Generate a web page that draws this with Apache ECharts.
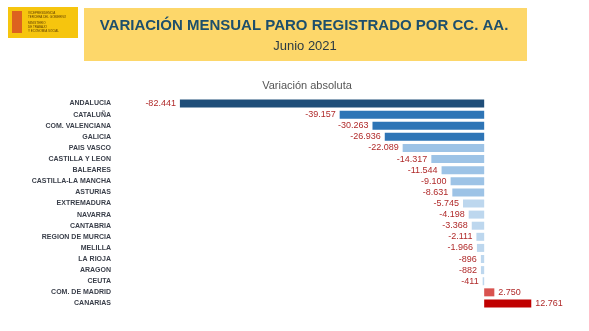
<!DOCTYPE html>
<html><head><meta charset="utf-8">
<script src="https://cdn.jsdelivr.net/npm/echarts@6/dist/echarts.min.js"></script>
<style>html,body{margin:0;padding:0;background:#fff}#c{width:589px;height:331px}</style>
</head><body><div id="c"></div>
<script>
var categories = ["ANDALUCIA","CATALUÑA","COM. VALENCIANA","GALICIA","PAIS VASCO","CASTILLA Y LEON","BALEARES","CASTILLA-LA MANCHA","ASTURIAS","EXTREMADURA","NAVARRA","CANTABRIA","REGION DE MURCIA","MELILLA","LA RIOJA","ARAGON","CEUTA","COM. DE MADRID","CANARIAS"];
var values = [-82441,-39157,-30263,-26936,-22089,-14317,-11544,-9100,-8631,-5745,-4198,-3368,-2111,-1966,-896,-882,-411,2750,12761];
var barColors = ["#1f4e79","#2e75b6","#2e75b6","#2e75b6","#9dc3e6","#9dc3e6","#9dc3e6","#9dc3e6","#9dc3e6","#bdd7ee","#bdd7ee","#bdd7ee","#bdd7ee","#bdd7ee","#bdd7ee","#bdd7ee","#bdd7ee","#d9534f","#c00000"];
var titleText = "VARIACIÓN MENSUAL PARO REGISTRADO POR CC. AA.";
var subtitleText = "Junio 2021";
var chartTitle = "Variación absoluta";

function fmt(v){
  var s = Math.abs(v).toString().replace(/\B(?=(\d{3})+(?!\d))/g, ".");
  return (v < 0 ? "-" : "") + s;
}

var chart = echarts.init(document.getElementById('c'));
var data = values.map(function(v,i){
  return {value:v, itemStyle:{color:barColors[i]},
    label:{position: v<0 ? 'left' : 'right'}};
});
chart.setOption({
  animation:false,
  backgroundColor:'#fff',
  graphic:[
    {type:'rect', shape:{x:8,y:7,width:70,height:31}, style:{fill:'#f6c50e'}},
    {type:'rect', shape:{x:12,y:11,width:10,height:22}, style:{fill:'#c8102e', opacity:0.55}},
    {type:'text', left:28, top:11, style:{text:'VICEPRESIDENCIA\nTERCERA DEL GOBIERNO', font:'3px sans-serif', fill:'#5a3a00', lineHeight:4}},
    {type:'text', left:28, top:21, style:{text:'MINISTERIO\nDE TRABAJO\nY ECONOMÍA SOCIAL', font:'3px sans-serif', fill:'#5a3a00', lineHeight:4}},
    {type:'rect', shape:{x:84,y:8,width:443,height:53}, style:{fill:'#fdd76a'}},
    {type:'text', x:304, y:26, style:{text:titleText, font:'bold 15px "Liberation Sans", Arial, sans-serif', fill:'#1d4f6c', textAlign:'center', textVerticalAlign:'middle'}},
    {type:'text', x:305, y:46, style:{text:subtitleText, font:'13px "Liberation Sans", Arial, sans-serif', fill:'#2a3a44', textAlign:'center', textVerticalAlign:'middle'}},
    {type:'text', x:307, y:86, style:{text:chartTitle, font:'11px "Liberation Sans", Arial, sans-serif', fill:'#555', textAlign:'center', textVerticalAlign:'middle'}}
  ],
  grid:{left:152, right:31, top:98, bottom:22, containLabel:false},
  xAxis:{type:'value', min:-90000, max:20000, show:false, splitLine:{show:false}},
  yAxis:{type:'category', data:categories, inverse:true,
    axisLine:{show:false}, axisTick:{show:false},
    axisLabel:{margin:41, fontSize:7, fontWeight:'bold', color:'#3a3f4a', fontFamily:'"Liberation Sans", Arial, sans-serif'}},
  series:[{type:'bar', data:data, barWidth:8,
    label:{show:true, formatter:function(p){return fmt(p.value);}, fontSize:9, color:'#b02a2a', distance:4, fontFamily:'"Liberation Sans", Arial, sans-serif'}}]
});
</script></body></html>
